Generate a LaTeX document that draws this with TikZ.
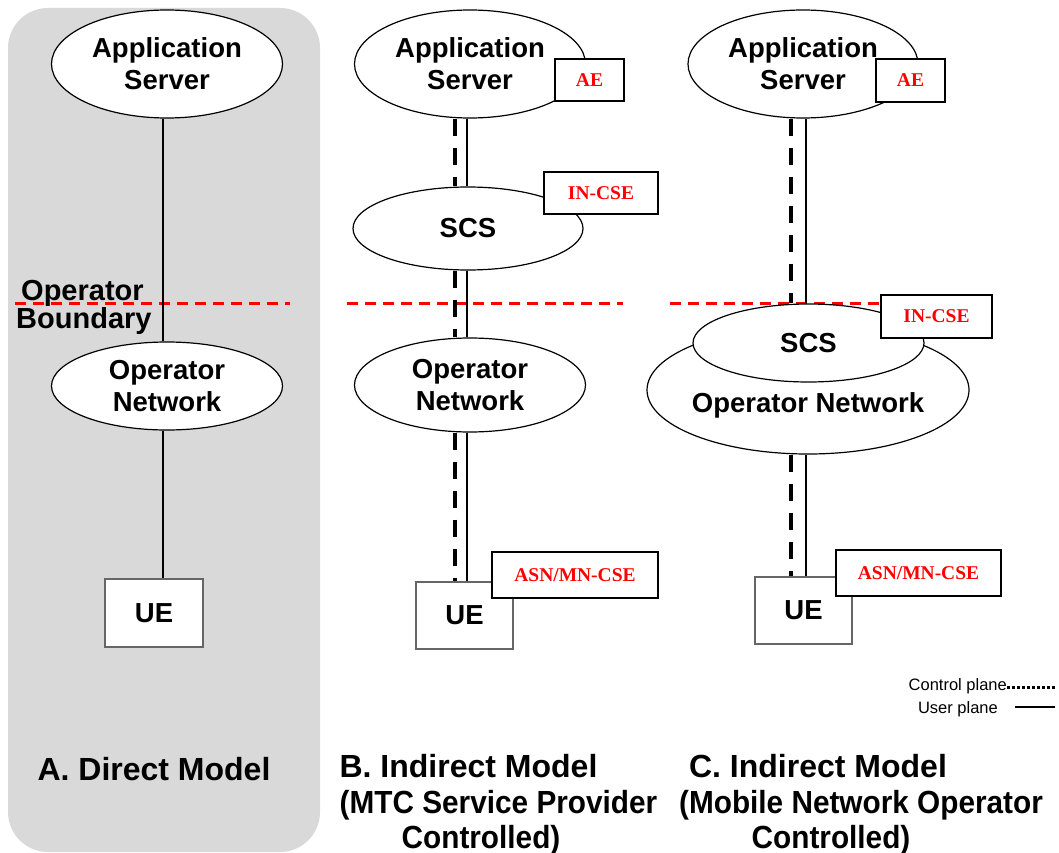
\documentclass[tikz,border=0pt]{standalone}
\usepackage{fontspec}
\setmainfont{Liberation Sans}
\newfontfamily\timesfont{Liberation Serif}
\usetikzlibrary{shapes.geometric,calc}
\definecolor{panelgray}{HTML}{D9D9D9}
\definecolor{boundred}{HTML}{FF0000}
\begin{document}
\begin{tikzpicture}[x=1pt,y=-1pt,
  ell/.style={ellipse,draw=black,line width=1.2pt,fill=white,inner sep=0pt,align=center,font=\fontsize{27.5}{32}\selectfont\bfseries},
  cse/.style={rectangle,draw=black,line width=1.8pt,fill=white,inner sep=0pt,text=boundred,font=\fontsize{19.5}{22}\selectfont\timesfont\bfseries},
  uebox/.style={rectangle,draw=black!60,line width=1.5pt,fill=white,inner sep=0pt,font=\fontsize{27.5}{32}\selectfont\bfseries},
  boundary/.style={draw=boundred,line width=3pt,dash pattern=on 11pt off 7pt},
  uplane/.style={draw=black,line width=2pt},
  cplane/.style={draw=black,line width=4pt,dash pattern=on 17pt off 12pt},
  title/.style={font=\fontsize{32}{36}\selectfont\bfseries,anchor=base,inner sep=0pt},
  bigtext/.style={font=\fontsize{27.5}{32}\selectfont\bfseries,inner sep=0pt},
  bndtext/.style={font=\fontsize{29}{32}\selectfont\bfseries,inner sep=0pt,anchor=base west},
  legend/.style={font=\fontsize{16.5}{18}\selectfont,inner sep=0pt,anchor=east},
]
\useasboundingbox (0,0) rectangle (1059,853);
\fill[panelgray, rounded corners=40pt] (8,8) rectangle (320,852);

% operator boundaries
\draw[boundary] (15,303) -- (290,303);
\draw[boundary] (347,303) -- (623,303);
\draw[boundary] (670,303) -- (880,303);

% ---------- Panel A ----------
\node[ell,minimum width=231pt,minimum height=108pt] (asA) at (167,64) {Application\\Server};
\node[ell,minimum width=231pt,minimum height=88pt] (onA) at (167,386) {Operator\\Network};
\node[uebox,minimum width=98pt,minimum height=68pt] (ueA) at (154,613) {UE};
\node[bndtext] (obl1) at (21,300) {Operator};
\node[bndtext] (obl2) at (16,328) {Boundary};
\coordinate (xA) at (163,0);
\draw[uplane] (asA.south -| xA) -- (onA.north -| xA);
\draw[uplane] (onA.south -| xA) -- (ueA.north -| xA);

% ---------- Panel B ----------
\node[ell,minimum width=231pt,minimum height=108pt] (asB) at (470,64) {Application\\Server};
\node[cse,minimum width=69pt,minimum height=42pt] (aeB) at (589.5,80) {AE};
\node[ell,minimum width=230pt,minimum height=83pt] (scsB) at (468,228.5) {SCS};
\node[cse,minimum width=114pt,minimum height=42pt] (incB) at (601,193) {IN-CSE};
\node[ell,minimum width=231pt,minimum height=94pt] (onB) at (470,385) {Operator\\Network};
\node[uebox,minimum width=97pt,minimum height=67pt] (ueB) at (464.5,615.5) {UE};
\node[cse,minimum width=166pt,minimum height=46pt] (asnB) at (575,575) {ASN/MN-CSE};
\coordinate (sB) at (467,0);
\coordinate (dB) at (455,0);
\draw[uplane] (asB.south -| sB) -- (scsB.north -| sB);
\draw[cplane] (asB.south -| dB) -- (scsB.north -| dB);
\draw[uplane] (scsB.south -| sB) -- (onB.north -| sB);
\draw[cplane] (scsB.south -| dB) -- (onB.north -| dB);
\draw[uplane] (onB.south -| sB) -- (ueB.north -| sB);
\draw[cplane] (onB.south -| dB) -- (ueB.north -| dB);

% ---------- Panel C ----------
\node[ell,minimum width=230pt,minimum height=108pt] (asC) at (803,64) {Application\\Server};
\node[cse,minimum width=69pt,minimum height=43pt] (aeC) at (910.5,80.5) {AE};
\node[ell,minimum width=322pt,minimum height=128pt] (onC) at (808,390) {};
\node[bigtext] (onCt) at (808,405) {Operator Network};
\node[ell,minimum width=231pt,minimum height=78pt] (scsC) at (808.5,343) {SCS};
\node[cse,minimum width=111pt,minimum height=43pt] (incC) at (936.5,316.5) {IN-CSE};
\node[uebox,minimum width=97pt,minimum height=67pt] (ueC) at (803.5,610.5) {UE};
\node[cse,minimum width=165pt,minimum height=46pt] (asnC) at (918.5,573) {ASN/MN-CSE};
\coordinate (sC) at (806,0);
\coordinate (dC) at (791,0);
\draw[uplane] (asC.south -| sC) -- (scsC.north -| sC);
\draw[cplane] (asC.south -| dC) -- (scsC.north -| dC);
\draw[uplane] (onC.south -| sC) -- (ueC.north -| sC);
\draw[cplane] (onC.south -| dC) -- (ueC.north -| dC);

% ---------- Legend ----------
\node[legend] (cpl) at (1007,686) {Control plane};
\coordinate (cpe) at (1055,687);
\draw[line width=3pt,dash pattern=on 3pt off 2pt] (cpl.east |- cpe) -- (cpe);
\node[legend] (upl) at (998,709) {User plane};
\coordinate (ups) at (1015,707);
\coordinate (upe) at (1055,707);
\draw[line width=1.5pt] (ups) -- (upe);

% ---------- Titles ----------
\node[title] (tA) at (154,780) {A. Direct Model};
\node[title] (tB1) at (468.5,777) {B. Indirect Model};
\node[title] (tB2) at (498.5,813) {\scalebox{0.93}[1]{(MTC Service Provider}};
\node[title] (tB3) at (481,848) {\scalebox{0.93}[1]{Controlled)}};
\node[title] (tC1) at (818,777) {C. Indirect Model};
\node[title] (tC2) at (861,813) {\scalebox{0.93}[1]{(Mobile Network Operator}};
\node[title] (tC3) at (831,848) {\scalebox{0.93}[1]{Controlled)}};
\end{tikzpicture}
\end{document}
